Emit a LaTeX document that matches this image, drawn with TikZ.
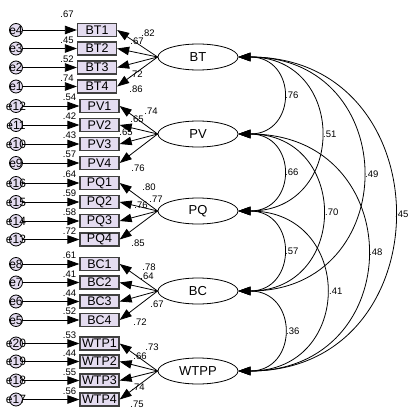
\documentclass[tikz,border=0pt]{standalone}
\usepackage{fontspec}
\setmainfont{Liberation Sans}
\usetikzlibrary{arrows.meta,shapes.geometric}
\definecolor{boxfill}{RGB}{228,220,240}
\begin{document}
\begin{tikzpicture}[x=1pt,y=-1pt,
  obs/.style={draw=black!75, line width=1.3pt, fill=boxfill, minimum width=39pt, minimum height=13pt, inner sep=0pt, font=\fontsize{12.5}{12.5}\selectfont},
  lat/.style={ellipse, draw, line width=0.8pt, fill=white, minimum width=80pt, minimum height=26pt, inner sep=0pt, font=\fontsize{13}{13}\selectfont},
  errc/.style={circle, draw, line width=0.8pt, fill=boxfill, minimum size=13pt, inner sep=0pt},
  errt/.style={inner sep=0pt, font=\fontsize{12}{12}\selectfont},
  num/.style={inner sep=0pt, font=\fontsize{9.5}{9.5}\selectfont},
  arr/.style={-{Triangle[length=12pt,width=8.5pt]}, line width=0.8pt},
  cov/.style={{Triangle[length=12pt,width=8.5pt]}-{Triangle[length=12pt,width=8.5pt]}, line width=0.8pt},
]
\useasboundingbox (0,0) rectangle (407,412);

% latent factors
\node[lat] (BT) at (198,57) {BT};
\node[lat] (PV) at (198,134) {PV};
\node[lat] (PQ) at (198,211) {PQ};
\node[lat] (BC) at (198,291) {BC};
\node[lat] (WTPP) at (198,371) {WTPP};

% observed indicators, errors
\foreach \n/\y/\xb/\e/\v/\vy in {
 BT1/30/97/e4/.67/14, BT2/48.5/97/e3/.45/40, BT3/67.5/97/e2/.52/59, BT4/86.5/97/e1/.74/78,
 PV1/106/99.5/e12/.54/97.5, PV2/125/99.5/e11/.42/116.5, PV3/144/99.5/e10/.43/135.5, PV4/163/99.5/e9/.57/154.5,
 PQ1/183/99.5/e16/.64/174.5, PQ2/202/99.5/e15/.59/193.5, PQ3/221/99.5/e14/.58/212.5, PQ4/239.5/99.5/e13/.72/231,
 BC1/264/99.5/e8/.61/255.5, BC2/282.5/99.5/e7/.41/274, BC3/301.5/99.5/e6/.44/293, BC4/320/99.5/e5/.52/311.5,
 WTP1/343.5/99.5/e20/.53/335, WTP2/361.5/99.5/e19/.44/353, WTP3/380.5/99.5/e18/.55/372, WTP4/399.5/99.5/e17/.56/391}{
 \node[obs] (\n) at (\xb,\y) {\n};
 \node[errc] (\e) at (16,\y) {};
 \node[errt] (\e-t) at (\e) {\e};
 \draw[arr] (\e) -- (\n);
 \node[num] (\n-v) at (\xb-30,\vy) {\v};
}

% loadings
\foreach \f/\a/\b/\c/\d in {BT/BT1/BT2/BT3/BT4, PV/PV1/PV2/PV3/PV4, PQ/PQ1/PQ2/PQ3/PQ4, BC/BC1/BC2/BC3/BC4, WTPP/WTP1/WTP2/WTP3/WTP4}{
 \draw[arr] (\f.west) -- (\a.east);
 \draw[arr] (\f.west) -- (\b.east);
 \draw[arr] (\f.west) -- (\c.east);
 \draw[arr] (\f.west) -- (\d.east);
}
\node[num] (l1) at (148,33) {.82};
\node[num] (l2) at (137,41) {.67};
\node[num] (l3) at (136,74) {.72};
\node[num] (l4) at (136,89) {.86};
\node[num] (l5) at (151,111) {.74};
\node[num] (l6) at (137,119) {.65};
\node[num] (l7) at (126,132) {.65};
\node[num] (l8) at (138,168) {.76};
\node[num] (l9) at (149,187) {.80};
\node[num] (l10) at (156,199) {.77};
\node[num] (l11) at (141,205) {.76};
\node[num] (l12) at (138,243) {.85};
\node[num] (l13) at (149,267) {.78};
\node[num] (l14) at (147,276) {.64};
\node[num] (l15) at (157,304) {.67};
\node[num] (l16) at (140,322) {.72};
\node[num] (l17) at (152,347) {.73};
\node[num] (l18) at (140,356) {.66};
\node[num] (l19) at (138,387) {.74};
\node[num] (l20) at (137,404) {.75};

% covariances
\draw[cov] (BT.east) .. controls +(59,0) and +(59,0) .. (PV.east);
\draw[cov] (BT.east) .. controls +(109,0) and +(109,0) .. (PQ.east);
\draw[cov] (BT.east) .. controls +(165,0) and +(165,0) .. (BC.east);
\draw[cov] (BT.east) .. controls +(207,0) and +(207,0) .. (WTPP.east);
\draw[cov] (PV.east) .. controls +(59,0) and +(59,0) .. (PQ.east);
\draw[cov] (PV.east) .. controls +(111,0) and +(111,0) .. (BC.east);
\draw[cov] (PV.east) .. controls +(171,0) and +(171,0) .. (WTPP.east);
\draw[cov] (PQ.east) .. controls +(59,0) and +(59,0) .. (BC.east);
\draw[cov] (PQ.east) .. controls +(116,0) and +(116,0) .. (WTPP.east);
\draw[cov] (BC.east) .. controls +(60,0) and +(60,0) .. (WTPP.east);
\node[num, anchor=west] (c1) at (285,95.5) {.76};
\node[num, anchor=west] (c2) at (323,134) {.51};
\node[num, anchor=west] (c3) at (365,174) {.49};
\node[num, anchor=west] (c4) at (395,214) {.45};
\node[num, anchor=west] (c5) at (285,172.5) {.66};
\node[num, anchor=west] (c6) at (325,212.5) {.70};
\node[num, anchor=west] (c7) at (369,252.5) {.48};
\node[num, anchor=west] (c8) at (285,251) {.57};
\node[num, anchor=west] (c9) at (329,291) {.41};
\node[num, anchor=west] (c10) at (286,331) {.36};
\end{tikzpicture}
\end{document}
